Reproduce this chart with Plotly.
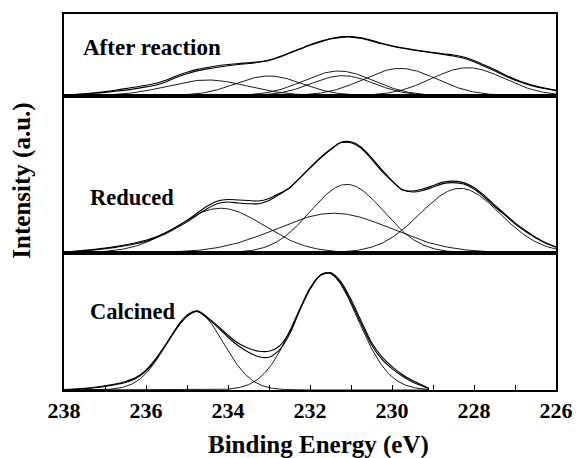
import numpy as np
import plotly.graph_objects as go
from plotly.subplots import make_subplots

# ---------------- data (heights in arbitrary intensity units) ----------------
panel_names = ["After reaction", "Reduced", "Calcined"]

# binding-energy sampling points of the spectra (eV)
E_full = [238.0, 237.75, 237.5, 237.25, 237.0, 236.75, 236.5, 236.25, 236.0, 235.75, 235.5, 235.25,
          235.0, 234.75, 234.5, 234.25, 234.0, 233.75, 233.5, 233.25, 233.0, 232.75, 232.5, 232.25,
          232.0, 231.75, 231.5, 231.25, 231.0, 230.75, 230.5, 230.25, 230.0, 229.75, 229.5, 229.25,
          229.0, 228.75, 228.5, 228.25, 228.0, 227.75, 227.5, 227.25, 227.0, 226.75, 226.5, 226.25, 226.0]
E_calc = [238.0, 237.75, 237.5, 237.25, 237.0, 236.75, 236.5, 236.25, 236.0, 235.75, 235.5, 235.25,
          235.0, 234.75, 234.5, 234.25, 234.0, 233.75, 233.5, 233.25, 233.0, 232.75, 232.5, 232.25,
          232.0, 231.75, 231.5, 231.25, 231.0, 230.75, 230.5, 230.25, 230.0, 229.75, 229.5, 229.25, 229.1]

# After reaction: fitted envelope and measured spectrum
top_fit = [0.3, 0.8, 1.5, 2.3, 3.2, 4.3, 5.5, 7.0, 8.7, 10.7, 14.0, 18.5,
           22.0, 24.8, 26.8, 28.5, 30.0, 31.3, 32.3, 33.5, 35.3, 38.5, 42.5, 46.5,
           50.5, 54.0, 56.8, 58.5, 58.8, 57.5, 55.0, 52.0, 49.5, 47.5, 45.8, 44.3,
           42.8, 41.3, 39.8, 37.5, 34.0, 29.5, 25.0, 20.0, 15.5, 12.0, 9.0, 6.8, 5.0]
top_meas = [0.5, 1.1, 1.9, 2.9, 4.0, 5.4, 7.0, 8.6, 10.3, 12.3, 15.6, 20.0,
            23.5, 26.3, 28.3, 30.0, 31.3, 32.2, 33.0, 34.0, 35.8, 39.0, 43.0, 47.0,
            51.0, 54.5, 57.3, 59.0, 59.3, 58.0, 55.5, 52.5, 50.0, 48.0, 46.3, 44.8,
            43.3, 42.0, 40.8, 38.7, 35.2, 30.7, 26.2, 21.0, 16.3, 12.6, 9.5, 7.2, 5.4]
# fitted components: centre (eV), height, FWHM (eV)
top_centers = [234.5, 233.0, 231.3, 231.2, 229.8, 228.15]
top_heights = [15.7, 19.7, 24.7, 20.0, 27.3, 28.0]
top_fwhm = [2.3, 1.9, 2.0, 1.8, 2.1, 2.1]

# Reduced
mid_fit = [0.5, 1.2, 2.0, 2.9, 4.0, 5.4, 7.0, 9.0, 11.5, 15.0, 19.5, 25.0,
           31.0, 38.0, 44.5, 49.5, 51.0, 50.0, 49.3, 49.3, 52.5, 58.5, 65.0, 75.0,
           85.0, 95.0, 103.5, 110.5, 110.5, 105.0, 94.0, 82.0, 72.0, 63.5, 61.0, 62.5,
           66.0, 69.5, 70.5, 69.0, 64.0, 56.0, 46.5, 38.0, 29.0, 21.5, 15.0, 9.5, 5.5]
mid_meas = [0.7, 1.5, 2.4, 3.4, 4.6, 6.2, 8.0, 10.0, 12.5, 16.0, 20.5, 26.0,
            32.5, 40.0, 47.0, 52.0, 53.5, 53.0, 52.5, 52.0, 54.5, 59.5, 65.5, 75.0,
            85.5, 95.5, 104.0, 111.0, 111.5, 106.0, 95.5, 83.5, 72.5, 63.0, 62.0, 64.0,
            67.5, 71.0, 72.0, 70.5, 65.5, 57.5, 48.0, 39.0, 30.0, 22.5, 15.5, 10.0, 6.0]
mid_centers = [234.18, 231.42, 231.1, 228.34]
mid_heights = [44.7, 39.7, 68.7, 64.7]
mid_fwhm = [2.5, 3.3, 2.1, 2.3]

# Calcined
bot_fit = [0.3, 0.7, 1.3, 2.2, 3.5, 5.2, 7.5, 11.5, 19.0, 31.0, 46.0, 62.0,
           74.0, 79.0, 72.0, 63.0, 53.0, 44.5, 38.0, 33.5, 33.0, 40.0, 56.0, 80.0,
           101.0, 115.0, 117.5, 107.5, 88.5, 66.5, 45.5, 31.0, 21.5, 14.0, 8.0, 3.8, 1.2]
bot_meas = [0.5, 1.0, 1.8, 2.8, 4.2, 6.0, 8.5, 12.5, 20.0, 32.0, 47.0, 62.5,
            74.5, 79.5, 73.0, 64.5, 55.0, 47.0, 42.0, 39.0, 39.0, 44.0, 58.0, 81.0,
            102.0, 115.5, 118.0, 109.0, 91.0, 69.0, 48.0, 33.5, 23.5, 15.5, 9.5, 4.8, 1.8]
bot_centers = [234.8, 231.6]
bot_heights = [79, 118]
bot_fwhm = [1.6, 1.8]

tick_values = [238, 237, 236, 235, 234, 233, 232, 231, 230, 229, 228, 227, 226]
tick_labels = ["238", "", "236", "", "234", "", "232", "", "230", "", "228", "", "226"]

# ---------------- figure ----------------
FONT = "Liberation Serif, Times New Roman, serif"
panels = [
    (E_full, top_fit, top_meas, top_centers, top_heights, top_fwhm, 82),
    (E_full, mid_fit, mid_meas, mid_centers, mid_heights, mid_fwhm, 158),
    (E_calc, bot_fit, bot_meas, bot_centers, bot_heights, bot_fwhm, 138),
]

fig = make_subplots(rows=3, cols=1, shared_xaxes=True, vertical_spacing=0,
                    row_heights=[82 / 378, 158 / 378, 138 / 378])

for r, (E, fit, meas, cen, hgt, fw, ymax) in enumerate(panels, start=1):
    grid = np.linspace(E[0], E[-1], 400)
    for c, h, w in zip(cen, hgt, fw):
        sig = w / 2.3548
        fig.add_trace(go.Scatter(x=grid, y=h * np.exp(-0.5 * ((grid - c) / sig) ** 2), mode="lines",
                                 line=dict(color="black", width=0.9), showlegend=False, hoverinfo="skip"),
                      row=r, col=1)
    for series in (fit, meas):
        fig.add_trace(go.Scatter(x=E, y=series, mode="lines",
                                 line=dict(color="black", width=1.1, shape="spline", smoothing=0.8),
                                 showlegend=False), row=r, col=1)
    fig.update_yaxes(range=[0, ymax], showticklabels=False, ticks="", showgrid=False, zeroline=False,
                     showline=True, mirror=True, linecolor="black", linewidth=1.7, row=r, col=1)
    fig.update_xaxes(range=[238, 226], showgrid=False, zeroline=False, showline=True, mirror=True,
                     linecolor="black", linewidth=1.7, row=r, col=1)

fig.update_xaxes(tickmode="array", tickvals=tick_values, ticktext=tick_labels, ticks="inside",
                 ticklen=5, tickwidth=1.3, tickcolor="black",
                 tickfont=dict(family=FONT, size=22, color="black", weight="bold"),
                 row=3, col=1)

label_pos = [(0.034, 0.912, 23), (0.049, 0.512, 22.5), (0.049, 0.209, 22.5)]
for name, (lx, ly, fs) in zip(panel_names, label_pos):
    fig.add_annotation(text=name, xref="paper", yref="paper", x=lx, y=ly, xanchor="left", yanchor="middle",
                       showarrow=False, font=dict(family=FONT, size=fs, color="black", weight="bold"))

fig.add_annotation(text="Binding Energy (eV)", xref="paper", yref="paper", x=0.518, y=-0.145,
                   xanchor="center", yanchor="middle", showarrow=False,
                   font=dict(family=FONT, size=25, color="black", weight="bold"))
fig.add_annotation(text="Intensity (a.u.)", xref="paper", yref="paper", x=-0.086, y=0.556,
                   xanchor="center", yanchor="middle", textangle=-90, showarrow=False,
                   font=dict(family=FONT, size=25, color="black", weight="bold"))

fig.update_layout(width=585, height=458, margin=dict(l=64, r=21, t=12, b=68),
                  paper_bgcolor="white", plot_bgcolor="white", showlegend=False)

fig.write_html("out.html")
